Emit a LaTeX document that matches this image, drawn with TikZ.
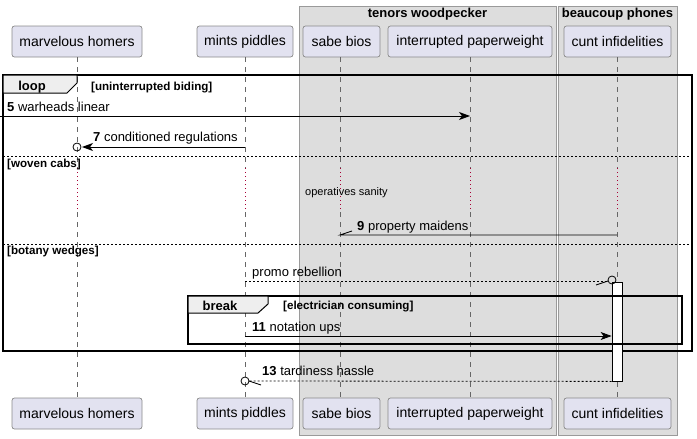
\documentclass[tikz,border=0pt]{standalone}
\usepackage{fontspec}
\setmainfont{Liberation Sans}
\usetikzlibrary{arrows.meta}
\definecolor{partfill}{HTML}{E2E2F0}
\definecolor{partdraw}{HTML}{8A8A8A}
\definecolor{boxfill}{HTML}{DDDDDD}
\definecolor{boxdraw}{HTML}{9A9A9A}
\definecolor{tabfill}{HTML}{EEEEEE}
\definecolor{lifec}{HTML}{666666}
\definecolor{delayc}{HTML}{A80036}
\tikzset{
  partbox/.style={draw=partdraw, fill=partfill, rounded corners=2.5pt, minimum height=31pt, inner sep=0pt, line width=0.7pt, font=\fontsize{14}{16}\selectfont},
  lifeline/.style={draw=lifec, dash pattern=on 5pt off 5pt, line width=0.6pt},
  delayline/.style={draw=delayc, dash pattern=on 1pt off 3pt, line width=0.8pt},
  msgtxt/.style={anchor=base west, inner sep=0pt, font=\fontsize{13}{15}\selectfont},
  smalltxt/.style={anchor=base west, inner sep=0pt, font=\fontsize{11}{13}\selectfont},
  guardtxt/.style={anchor=base west, inner sep=0pt, font=\bfseries\fontsize{11.6}{13}\selectfont},
  tabtxt/.style={anchor=base, inner sep=0pt, font=\bfseries\fontsize{13}{15}\selectfont},
  grptxt/.style={anchor=base, inner sep=0pt, font=\bfseries\fontsize{13}{15}\selectfont},
  solidmsg/.style={draw=black, line width=0.8pt},
  dotmsg/.style={draw=black, line width=0.8pt, dash pattern=on 2pt off 2pt},
  arrhead/.style={-{Stealth[length=11pt,width=8pt,inset=3pt]}},
  sdframe/.style={draw=black, line width=1.5pt},
  tabshape/.style={draw=black, line width=1pt, fill=tabfill},
  sepline/.style={draw=black, line width=0.8pt, dash pattern=on 2pt off 2pt},
  grp/.style={draw=boxdraw, fill=boxfill, line width=0.8pt},
  actbar/.style={draw=black, fill=white, line width=0.8pt, minimum width=10pt, minimum height=99pt, inner sep=0pt},
  endcirc/.style={draw=black, line width=0.8pt},
}
\begin{document}
\begin{tikzpicture}[x=1pt,y=-1pt]
\useasboundingbox (0,0) rectangle (697,439);
% group boxes
\draw[grp] (299,6) rectangle (556,435);
\draw[grp] (558,6) rectangle (677,435);
\node[grptxt] (g1) at (427.5,17) {tenors woodpecker};
\node[grptxt] (g2) at (617.5,17) {beaucoup phones};
% participants
\node[partbox, minimum width=130pt] (mh) at (77,41.5) {marvelous homers};
\node[partbox, minimum width=96pt] (mp) at (245,41.5) {mints piddles};
\node[partbox, minimum width=77pt] (sb) at (341.5,41.5) {sabe bios};
\node[partbox, minimum width=164pt] (ip) at (470,41.5) {interrupted paperweight};
\node[partbox, minimum width=107pt] (ci) at (617.5,41.5) {cunt infidelities};
\node[partbox, minimum width=130pt] (mhb) at (77,413.5) {marvelous homers};
\node[partbox, minimum width=96pt] (mpb) at (245,413.5) {mints piddles};
\node[partbox, minimum width=77pt] (sbb) at (341.5,413.5) {sabe bios};
\node[partbox, minimum width=164pt] (ipb) at (470,413.5) {interrupted paperweight};
\node[partbox, minimum width=107pt] (cib) at (617.5,413.5) {cunt infidelities};
% lifelines x positions
\coordinate (xmh) at (77,0);
\coordinate (xmp) at (245,0);
\coordinate (xsb) at (340,0);
\coordinate (xip) at (470,0);
\coordinate (xci) at (617,0);
\coordinate (d1) at (0,168);
\coordinate (d2) at (0,212);
\foreach \p/\b in {xmh/mhb, xmp/mpb, xsb/sbb, xip/ipb, xci/cib}{
  \draw[lifeline] (\p |- 0,57) -- (\p |- d1);
  \draw[delayline] (\p |- d1) -- (\p |- d2);
  \draw[lifeline] (\p |- d2) -- (\p |- \b.north);
}
% loop frame
\draw[sdframe] (3,75) rectangle (692,351);
\draw[tabshape] (3,75) -- (77,75) -- (77,83) -- (67,93) -- (3,93) -- cycle;
\node[tabtxt] (looplbl) at (32,90) {loop};
\node[guardtxt] (g_loop) at (91,90) {[uninterrupted biding]};
% message 5 (found)
\coordinate (src5) at (0,116);
\coordinate (y5) at (0,116);
\node[msgtxt] (l5) at (7,111) {{\bfseries 5} warheads linear};
\draw[solidmsg, arrhead] (src5) -- (xip |- y5);
% message 7
\coordinate (y7) at (0,147);
\node[msgtxt] (l7) at (93,141) {{\bfseries 7} conditioned regulations};
\draw[endcirc] (xmh |- y7) circle[radius=4];
\draw[solidmsg, arrhead] (xmp |- y7) -- (82,147);
% separator woven cabs
\draw[sepline] (3,156) -- (692,156);
\node[guardtxt] (g_woven) at (7,167) {[woven cabs]};
\node[smalltxt] (delaytxt) at (305,195) {operatives sanity};
% message 9
\coordinate (y9) at (0,235);
\node[msgtxt] (l9) at (357,230) {{\bfseries 9} property maidens};
\draw[solidmsg] (xci |- y9) -- (xsb |- y9) -- (352,231);
% separator botany wedges
\draw[sepline] (3,244) -- (692,244);
\node[guardtxt] (g_botany) at (7,254) {[botany wedges]};
% activation bar
\node[actbar] (act) at (617,331.5) {};
% promo rebellion
\coordinate (yp) at (0,281);
\node[msgtxt] (lp) at (252,276) {promo rebellion};
\draw[dotmsg] (xmp |- yp) -- (608,281);
\draw[solidmsg] (596,285) -- (608,281);
\draw[endcirc] (612,280) circle[radius=4];
% break frame
\draw[sdframe] (188,296) rectangle (682,344);
\draw[tabshape] (188,296) -- (268,296) -- (268,304) -- (258,313) -- (188,313) -- cycle;
\node[tabtxt] (breaklbl) at (220,310) {break};
\node[guardtxt] (g_break) at (283,309) {[electrician consuming]};
% message 11
\coordinate (y11) at (0,336);
\node[msgtxt] (l11) at (252,331) {{\bfseries 11} notation ups};
\draw[solidmsg, arrhead] (xmp |- y11) -- (act.west |- y11);
% message 13
\coordinate (y13) at (0,381);
\node[msgtxt] (l13) at (262,375) {{\bfseries 13} tardiness hassle};
\draw[dotmsg] (act.south west) -- (249,381);
\draw[solidmsg] (249,381) -- (261,385);
\draw[endcirc] (xmp |- y13) circle[radius=4];
\end{tikzpicture}
\end{document}
